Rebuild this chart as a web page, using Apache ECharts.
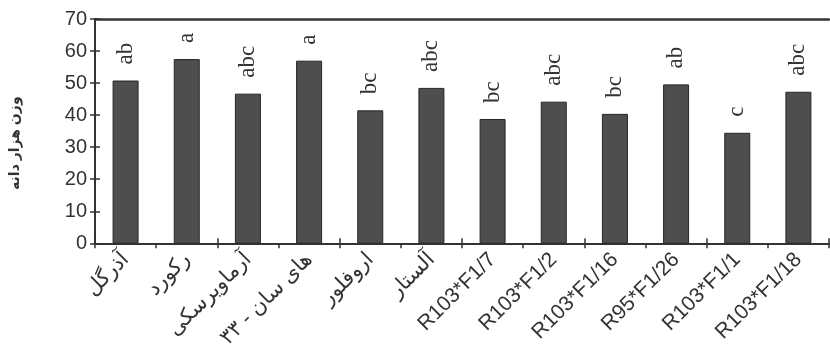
<!DOCTYPE html>
<html>
<head>
<meta charset="utf-8">
<script src="https://cdn.jsdelivr.net/npm/echarts@6/dist/echarts.min.js"></script>
<style>
  html, body { margin: 0; padding: 0; background: #fff; }
  #chart { width: 830px; height: 351px; }
</style>
</head>
<body>
<div id="chart"></div>
<script>
// Thousand-seed weight per cultivar / line, with mean-separation letters
const categories = [
  'آذرگل', 'رکورد', 'آرماویرسکی', 'های سان - ۳۳', 'اروفلور', 'آلستار',
  'R103*F1/7', 'R103*F1/2', 'R103*F1/16', 'R95*F1/26', 'R103*F1/1', 'R103*F1/18'
];
const weights = [50.8, 57.5, 46.7, 57.0, 41.5, 48.5, 38.8, 44.2, 40.4, 49.6, 34.5, 47.3];
const letters = ['ab', 'a', 'abc', 'a', 'bc', 'abc', 'bc', 'abc', 'bc', 'ab', 'c', 'abc'];
const yTicks = [0, 10, 20, 30, 40, 50, 60, 70];

const axisColor = '#333';
const sansFont = '"Liberation Sans", "DejaVu Sans", Arial, sans-serif';
const serifFont = '"Liberation Serif", "DejaVu Serif", serif';

const chart = echarts.init(document.getElementById('chart'), null, { renderer: 'canvas' });

const yMin = yTicks[0];
const yMax = yTicks[yTicks.length - 1];
const yStep = yTicks[1] - yTicks[0];

chart.setOption({
  animation: false,
  backgroundColor: '#fff',
  grid: { left: 91, right: 1, top: 19, bottom: 107, containLabel: false },
  xAxis: [
    {
      type: 'category',
      data: categories,
      position: 'bottom',
      axisLine: { lineStyle: { color: axisColor, width: 2 } },
      axisTick: { show: true, inside: false, length: 5, lineStyle: { color: axisColor, width: 1.5 } },
      axisLabel: {
        interval: 0,
        rotate: 45,
        margin: 13,
        color: axisColor,
        fontFamily: sansFont,
        fontSize: 21
      },
      splitLine: { show: false }
    },
    {
      // inner half of the crossing ticks
      type: 'category',
      data: categories,
      position: 'bottom',
      axisLine: { show: false },
      axisTick: { show: true, inside: true, length: 5, lineStyle: { color: axisColor, width: 1.5 } },
      axisLabel: { show: false },
      splitLine: { show: false }
    },
    {
      // closing line along the top of the plot
      type: 'category',
      data: categories,
      position: 'top',
      axisLine: { lineStyle: { color: axisColor, width: 2.5 } },
      axisTick: { show: false },
      axisLabel: { show: false },
      splitLine: { show: false }
    }
  ],
  yAxis: [
    {
      type: 'value',
      min: yMin,
      max: yMax,
      interval: yStep,
      position: 'left',
      name: 'وزن هزار دانه',
      nameLocation: 'middle',
      nameRotate: 90,
      nameGap: 73,
      nameTextStyle: {
        color: axisColor, fontFamily: sansFont, fontSize: 14, fontWeight: 'bold',
        padding: [0, 24, 0, 0]
      },
      axisLine: { show: true, lineStyle: { color: axisColor, width: 2 } },
      axisTick: { show: true, inside: false, length: 5, lineStyle: { color: axisColor, width: 1.5 } },
      axisLabel: { margin: 8, color: axisColor, fontFamily: sansFont, fontSize: 20 },
      splitLine: { show: false }
    },
    {
      type: 'value',
      min: yMin,
      max: yMax,
      interval: yStep,
      position: 'left',
      axisLine: { show: false },
      axisTick: { show: true, inside: true, length: 5, lineStyle: { color: axisColor, width: 1.5 } },
      axisLabel: { show: false },
      splitLine: { show: false }
    }
  ],
  series: [
    {
      type: 'bar',
      xAxisIndex: 0,
      yAxisIndex: 0,
      data: weights,
      barWidth: 26,
      itemStyle: { color: '#4e4e4e', borderColor: '#262626', borderWidth: 1 },
      label: {
        show: true,
        position: 'top',
        distance: 16,
        rotate: 90,
        align: 'left',
        verticalAlign: 'middle',
        formatter: p => letters[p.dataIndex],
        color: axisColor,
        fontFamily: serifFont,
        fontSize: 23
      }
    }
  ]
});
</script>
</body>
</html>
